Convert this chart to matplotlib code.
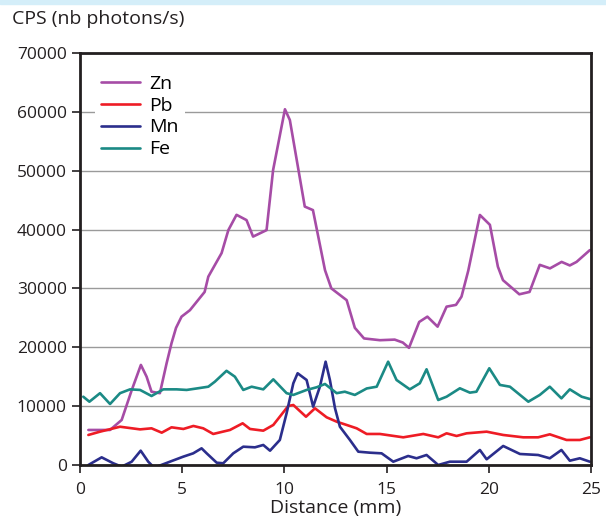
import matplotlib.pyplot as plt
from matplotlib.patches import Rectangle

plt.rcParams['font.family'] = ['Open Sans', 'DejaVu Sans']

# Zn profile
zn_x = [0.41, 1.47, 2.04, 2.53, 2.98, 3.26, 3.5, 3.91, 4.24, 4.48, 4.7, 4.97, 5.38,
        6.1, 6.28, 6.93, 7.26, 7.66, 8.15, 8.47, 9.13, 9.45, 10.03, 10.27, 11.0,
        11.4, 11.99, 12.3, 13.05, 13.45, 13.9, 14.68, 15.4, 15.8, 16.1, 16.6, 17.0,
        17.5, 17.94, 18.4, 18.67, 19.0, 19.57, 20.06, 20.45, 20.7, 21.5, 22.0, 22.5,
        23.0, 23.57, 23.97, 24.3, 24.95]
zn_y = [5950, 5950, 7650, 12700, 17000, 15000, 12450, 12200, 17300, 20700, 23300,
        25200, 26300, 29400, 32000, 36000, 39900, 42500, 41600, 38800, 39900, 50100,
        60430, 58600, 43900, 43300, 33100, 30000, 28000, 23300, 21500, 21200, 21300,
        20800, 19900, 24300, 25200, 23500, 26900, 27200, 28600, 33000, 42475, 40800,
        33700, 31400, 29000, 29400, 34000, 33400, 34500, 33900, 34500, 36500]

# Pb profile
pb_x = [0.41, 0.98, 1.96, 2.94, 3.5, 4.0, 4.48, 5.06, 5.55, 6.03, 6.52, 7.34, 7.96,
        8.32, 8.97, 9.46, 10.19, 10.44, 11.06, 11.5, 12.07, 12.56, 13.05, 13.54,
        14.03, 14.68, 15.82, 16.8, 17.53, 17.94, 18.43, 18.92, 19.9, 20.71, 21.69,
        22.42, 22.99, 23.81, 24.46, 24.95]
pb_y = [5100, 5660, 6500, 6050, 6230, 5490, 6400, 6120, 6630, 6230, 5270, 5950,
        7080, 6120, 5830, 6800, 10020, 10190, 8200, 9630, 8100, 7360, 6800, 6230,
        5270, 5270, 4700, 5270, 4700, 5380, 4930, 5380, 5660, 5100, 4700, 4700,
        5210, 4250, 4250, 4700]

# Mn profile
mn_x = [0.41, 1.06, 1.63, 2.04, 2.53, 2.97, 3.34, 3.63, 4.4, 5.05, 5.54, 5.95, 6.2,
        6.69, 7.01, 7.5, 7.99, 8.56, 8.97, 9.3, 9.78, 10.11, 10.44, 10.65, 11.09,
        11.41, 11.74, 12.02, 12.23, 12.48, 12.72, 13.21, 13.62, 14.19, 14.76, 15.33,
        16.06, 16.47, 16.96, 17.53, 18.1, 18.92, 19.57, 19.9, 20.71, 21.53, 22.42,
        22.99, 23.56, 23.97, 24.46, 24.95]
mn_y = [0, 1300, 290, -290, 560, 2430, 560, -460, 560, 1410, 1980, 2830, 1980, 390,
        290, 1980, 3110, 3000, 3400, 2430, 4250, 8780, 13880, 15580, 14440, 9910,
        13300, 17550, 14440, 9630, 6500, 4250, 2260, 2090, 1980, 560, 1530, 1140,
        1700, 0, 560, 560, 2550, 970, 3230, 1870, 1700, 1140, 2550, 730, 1140, 560]

# Fe profile
fe_x = [0.16, 0.46, 0.98, 1.47, 1.96, 2.45, 2.94, 3.5, 4.08, 4.73, 5.22, 5.71, 6.28,
        6.6, 7.17, 7.58, 7.99, 8.4, 8.97, 9.46, 10.11, 10.44, 11.09, 11.58, 11.99,
        12.56, 12.96, 13.45, 14.03, 14.52, 15.08, 15.49, 16.14, 16.63, 16.96, 17.53,
        17.94, 18.59, 19.08, 19.4, 20.03, 20.55, 21.04, 21.94, 22.5, 22.99, 23.56,
        23.97, 24.55, 24.95]
fe_y = [11600, 10750, 12200, 10360, 12200, 12850, 12750, 11720, 12850, 12850, 12750,
        13000, 13300, 14150, 16000, 15000, 12750, 13300, 12850, 14550, 12200, 11900,
        12750, 13200, 13760, 12200, 12450, 11900, 13000, 13300, 17550, 14440, 12850,
        13880, 16260, 11040, 11600, 13030, 12290, 12450, 16430, 13600, 13300, 10750,
        11900, 13300, 11320, 12850, 11600, 11210]

fig = plt.figure(figsize=(6.06, 5.17), dpi=100)
ax = fig.add_axes([0.132, 0.1006, 0.843, 0.797])

fig.patches.append(Rectangle((0, 0.993), 1, 0.007, transform=fig.transFigure,
                             color='#d4eef9', zorder=0))

kw = dict(lw=1.9, solid_joinstyle='round', solid_capstyle='round')
ax.plot(zn_x, zn_y, color='#a64ca6', label='Zn', **kw)
ax.plot(pb_x, pb_y, color='#ee1c25', label='Pb', **kw)
ax.plot(mn_x, mn_y, color='#2b2e8c', label='Mn', **kw)
ax.plot(fe_x, fe_y, color='#1b8a85', label='Fe', **kw)

ax.set_xlim(0, 25)
ax.set_ylim(0, 70000)
ax.set_xticks([0, 5, 10, 15, 20, 25])
ax.set_yticks(range(0, 70001, 10000))
ax.yaxis.grid(True, color='#9a9a9a', lw=1)
ax.set_axisbelow(True)
for s in ax.spines.values():
    s.set_linewidth(2)
    s.set_color('#231f20')
ax.tick_params(axis='both', labelsize=12.5, width=1.2, length=6, color='#231f20',
               labelcolor='#231f20')
ax.tick_params(axis='x', pad=6)

ax.set_xlabel('Distance (mm)', fontsize=14, labelpad=1, color='#231f20')
fig.text(0.02, 0.963, 'CPS (nb photons/s)', fontsize=14, color='#231f20',
         va='center', ha='left')

leg = ax.legend(loc='upper left', bbox_to_anchor=(0.01, 0.985), frameon=True,
                fontsize=14, handlelength=2.0, labelspacing=0.2,
                handletextpad=0.5, borderpad=0.3)
leg.get_frame().set_edgecolor('none')
leg.get_frame().set_facecolor('white')
leg.get_frame().set_alpha(1)

fig.savefig('out.png', dpi=100)
